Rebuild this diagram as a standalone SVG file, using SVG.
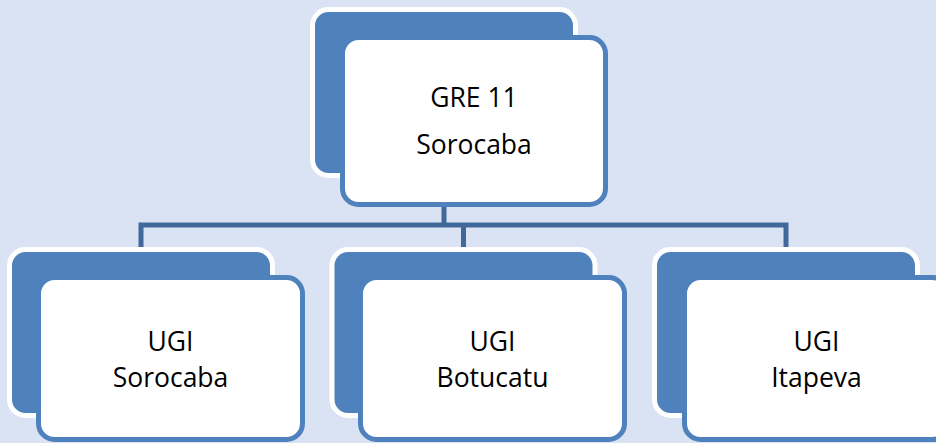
<svg xmlns="http://www.w3.org/2000/svg" width="936" height="443" viewBox="0 0 936 443">
<style>
.bg{fill:#DAE3F3}
.back{fill:#4F81BD;stroke:#FFFFFF;stroke-width:5}
.front{fill:#FFFFFF;stroke:#4F81BD;stroke-width:5}
.conn{fill:none;stroke:#41689B;stroke-width:5;stroke-linejoin:miter;stroke-linecap:butt}
.lbl{font-family:"Open Sans","Noto Sans","DejaVu Sans",sans-serif;font-size:26.5px;fill:#000000;text-anchor:middle}
</style>
<rect class="bg" x="0" y="0" width="936" height="443"/>
<g id="connectors">
<path class="conn" d="M444 207 V225"/>
<path class="conn" d="M141 247 V225 H786 V247"/>
<path class="conn" d="M463.5 225 V247"/>
</g>
<g id="node-gre">
<rect class="back" x="312.5" y="9.5" width="263" height="166" rx="16"/>
<rect class="front" x="342.5" y="37.5" width="263" height="167" rx="16"/>
<text class="lbl" x="474" y="107">GRE 11</text>
<text class="lbl" x="474" y="154">Sorocaba</text>
</g>
<g id="node-sorocaba">
<rect class="back" x="9.5" y="249.5" width="263" height="166" rx="16"/>
<rect class="front" x="38.5" y="277.5" width="264" height="162" rx="16"/>
<text class="lbl" x="170.5" y="351">UGI</text>
<text class="lbl" x="170.5" y="387">Sorocaba</text>
</g>
<g id="node-botucatu">
<rect class="back" x="332" y="249.5" width="263" height="166" rx="16"/>
<rect class="front" x="360.5" y="277.5" width="264" height="162" rx="16"/>
<text class="lbl" x="492.5" y="351">UGI</text>
<text class="lbl" x="492.5" y="387">Botucatu</text>
</g>
<g id="node-itapeva">
<rect class="back" x="654.5" y="249.5" width="263" height="166" rx="16"/>
<rect class="front" x="684.5" y="277.5" width="264" height="162" rx="16"/>
<text class="lbl" x="816.5" y="351">UGI</text>
<text class="lbl" x="816.5" y="387">Itapeva</text>
</g>
</svg>
